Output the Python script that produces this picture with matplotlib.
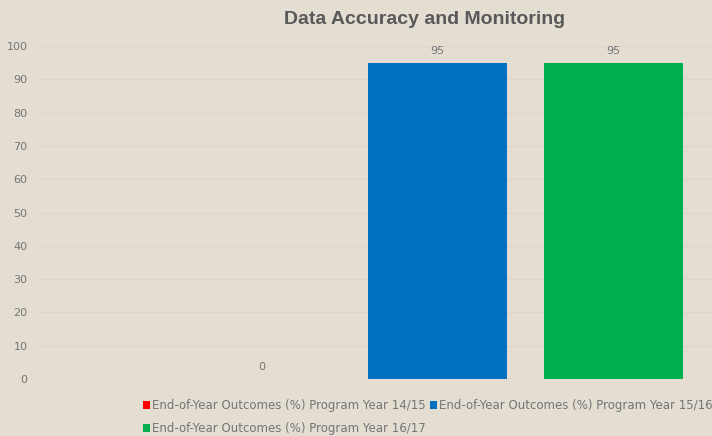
import matplotlib
matplotlib.use("Agg")
import matplotlib.pyplot as plt
from matplotlib.patches import Patch

plt.rcParams['font.family'] = ['DejaVu Sans']

series = ["End-of-Year Outcomes (%) Program Year 14/15",
          "End-of-Year Outcomes (%) Program Year 15/16",
          "End-of-Year Outcomes (%) Program Year 16/17"]
values = [0, 95, 95]
colors = ["#ff0000", "#0070c0", "#00b050"]
yticks = [0, 10, 20, 30, 40, 50, 60, 70, 80, 90, 100]
title = "Data Accuracy and Monitoring"

bg = "#e3ddd2"
txt = "#757575"
W, H = 712, 436
fig = plt.figure(figsize=(W / 100, H / 100), dpi=100, facecolor=bg)
ax = fig.add_axes([40 / W, 1 - 379 / H, 672 / W, (379 - 46) / H], facecolor=bg)

x = list(range(len(values)))
bars = ax.bar(x, values, width=0.79, color=colors, zorder=3)
for xi, v in zip(x, values):
    ax.text(xi, v + 2, str(v), ha='center', va='bottom', fontsize=8, color=txt)

ax.set_xlim(-1.26, 2.56)
ax.set_ylim(0, 100)
ax.set_yticks(yticks)
ax.set_xticks([])
ax.grid(axis='y', color='#d9d6cf', linewidth=1, zorder=0)
for s in ax.spines.values():
    s.set_visible(False)
ax.tick_params(axis='y', length=0, pad=9, labelsize=8, labelcolor=txt)

fig.text(424.5 / W, 1 - 20 / H, title, ha='center', va='center', fontsize=14,
         fontweight='bold', color='#595959',
         family=['Liberation Sans', 'DejaVu Sans'])

handles = [Patch(facecolor=c) for c in colors]
order = [0, 2, 1]
leg = fig.legend([handles[i] for i in order], [series[i] for i in order],
                 ncol=2, loc='upper left', bbox_to_anchor=(143 / W, 1 - 399 / H),
                 frameon=False, fontsize=8.5, labelcolor=txt,
                 handlelength=0.6, handleheight=0.6, handletextpad=0.17,
                 columnspacing=0.35, labelspacing=0.85, borderpad=0, borderaxespad=0)

fig.savefig("out.png", dpi=100, facecolor=bg)
